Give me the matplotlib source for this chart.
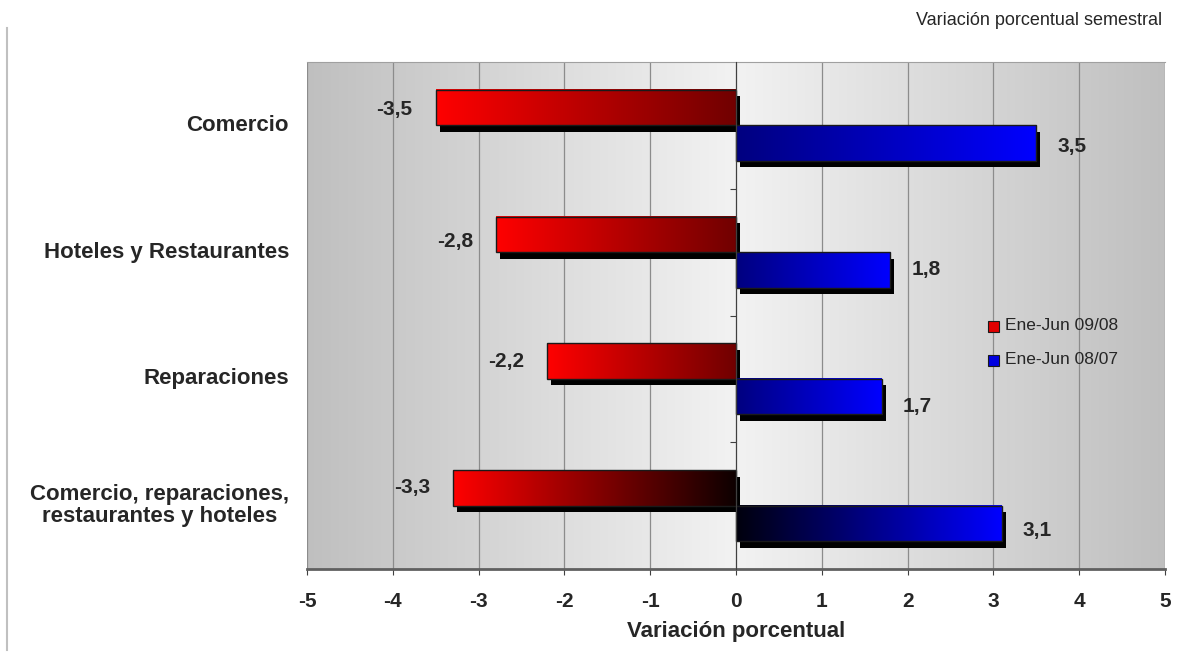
import numpy as np
import matplotlib
matplotlib.use("Agg")
import matplotlib.pyplot as plt
from matplotlib.patches import Rectangle
from matplotlib.lines import Line2D
from matplotlib.transforms import offset_copy, blended_transform_factory

plt.rcParams['font.family'] = ['Liberation Sans', 'DejaVu Sans']

categories = ["Comercio", "Hoteles y Restaurantes", "Reparaciones",
              "Comercio, reparaciones,\nrestaurantes y hoteles"]
serie_0908 = [-3.5, -2.8, -2.2, -3.3]
serie_0807 = [3.5, 1.8, 1.7, 3.1]
series_labels = ["Ene-Jun 09/08", "Ene-Jun 08/07"]
xticks = [-5, -4, -3, -2, -1, 0, 1, 2, 3, 4, 5]

# style: dark end colour of gradients (at zero) per category
red_dark = [(0.44, 0, 0), (0.44, 0, 0), (0.44, 0, 0), (0.05, 0, 0)]
blue_dark = [(0, 0, 0.50), (0, 0, 0.50), (0, 0, 0.50), (0, 0, 0.05)]
red_lbl_dy = [2, 7, 0, 0]
blue_lbl_dy = [3, 0, 10, 7]

TXT = '#262626'
W, H = 1192, 662

fig = plt.figure(figsize=(W / 100, H / 100), dpi=100)
ax = fig.add_axes([307 / W, 1 - 569 / H, 858 / W, 507 / H])

# background gradient
xs = np.linspace(-5, 5, 600)
g = 0.95 - (np.abs(xs) / 5) * (0.95 - 0.75)
bg = np.stack([g, g, g], axis=-1)[None, :, :].repeat(2, axis=0)
ax.imshow(bg, extent=[-5, 5, -0.5, 3.5], aspect='auto', zorder=0, interpolation='bilinear')

for xv in xticks:
    ax.axvline(xv, color='#8c8c8c', lw=0.9, zorder=1)

h = 0.28
n = len(categories)
shadow_tr = offset_copy(ax.transData, fig=fig, x=4, y=-6.5, units='dots')


def grad_bar(x0, x1, y0, y1, c_start, c_end):
    t = np.linspace(0, 1, 256)
    cs = np.array(c_start)[None, :] * (1 - t[:, None]) + np.array(c_end)[None, :] * t[:, None]
    img = cs[None, :, :].repeat(2, axis=0)
    left, right = min(x0, x1), max(x0, x1)
    if x1 < x0:
        img = img[:, ::-1, :]
    ax.add_patch(Rectangle((left, y0), right - left, y1 - y0, transform=shadow_tr,
                           facecolor='black', edgecolor='none', zorder=2))
    ax.imshow(img, extent=[left, right, y0, y1], aspect='auto', zorder=3,
              interpolation='bilinear')
    ax.add_patch(Rectangle((left, y0), right - left, y1 - y0, fill=False,
                           edgecolor='#1a1a1a', lw=1.0, zorder=4))


def fmt(v):
    return f"{v:.1f}".replace('.', ',')


lab_tr = blended_transform_factory(ax.transAxes, ax.transData)
for i, cat in enumerate(categories):
    yc = n - 1 - i
    rv = serie_0908[i]
    bv = serie_0807[i]
    grad_bar(0, rv, yc, yc + h, red_dark[i], (1, 0, 0))
    grad_bar(0, bv, yc - h, yc, blue_dark[i], (0, 0, 1))
    ax.annotate(fmt(rv), xy=(rv, yc + h / 2), xytext=(-23, -red_lbl_dy[i]),
                textcoords='offset pixels', ha='right', va='center',
                fontsize=15, fontweight='bold', color=TXT, zorder=5)
    ax.annotate(fmt(bv), xy=(bv, yc - h / 2), xytext=(21, -blue_lbl_dy[i]),
                textcoords='offset pixels', ha='left', va='center',
                fontsize=15, fontweight='bold', color=TXT, zorder=5)
    ax.text(-0.021, yc, cat, transform=lab_tr, ha='right', va='center',
            multialignment='center', fontsize=16, fontweight='bold',
            color=TXT, linespacing=1.1)

ax.set_xlim(-5, 5)
ax.set_ylim(-0.5, 3.5)
ax.set_xticks(xticks)
ax.set_xticklabels([str(v) for v in xticks], fontsize=15, fontweight='bold', color=TXT)
ax.set_yticks([0.5, 1.5, 2.5])
ax.set_yticklabels([])
ax.spines['left'].set_position(('data', 0))
ax.spines['left'].set_color('#404040')
ax.spines['left'].set_zorder(6)
ax.spines['right'].set_visible(False)
ax.spines['top'].set_color('#a0a0a0')
ax.spines['bottom'].set_color('#606060')
ax.spines['bottom'].set_linewidth(2)
ax.tick_params(axis='y', direction='out', length=4.3, color='#404040')
ax.tick_params(axis='x', direction='out', length=4.3, color='#404040', pad=12.5)
ax.set_xlabel("Variación porcentual", fontsize=16, fontweight='bold', color=TXT, labelpad=7)

# legend (drawn in figure pixels)
leg_colors = ['#e00000', '#0000e0']
leg_y = [326, 360]
for c, lbl, yy in zip(leg_colors, series_labels, leg_y):
    fig.add_artist(Rectangle((988 / W, 1 - (yy + 5.5) / H), 11 / W, 11 / H,
                             transform=fig.transFigure, facecolor=c,
                             edgecolor='#1a1a1a', lw=0.8))
    fig.text(1005 / W, 1 - yy / H, lbl, ha='left', va='center', fontsize=12.5, color=TXT)

fig.text(1162 / W, 1 - 25 / H, "Variación porcentual semestral", ha='right', va='baseline',
         fontsize=13, color=TXT)
fig.add_artist(Line2D([7 / W, 7 / W], [1 - 650 / H, 1 - 28 / H], color='#c0c0c0', lw=1.5))

fig.savefig("out.png", dpi=100)
